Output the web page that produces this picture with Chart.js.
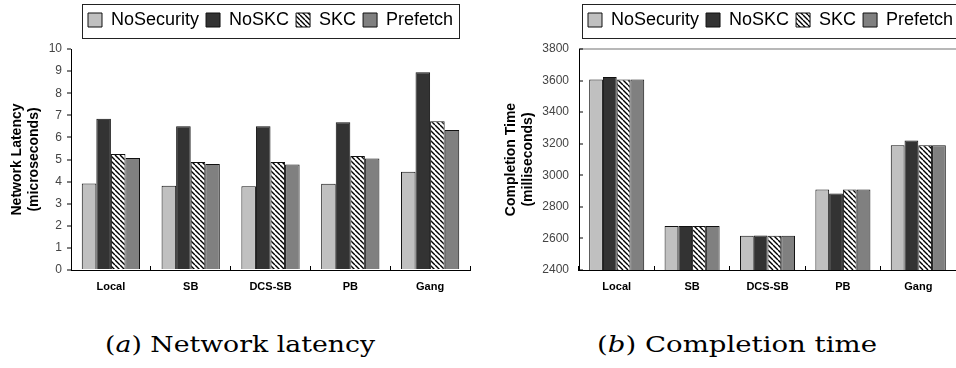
<!DOCTYPE html>
<html><head><meta charset="utf-8">
<script src="https://cdn.jsdelivr.net/npm/chart.js@4.4.1/dist/chart.umd.min.js"></script>
<style>
html,body{margin:0;padding:0;background:#fff;width:956px;height:368px;overflow:hidden;position:relative}
canvas{position:absolute;top:0}
#c1{left:0}
#c2{left:478px}
.cap{position:absolute;font-family:"DejaVu Serif",serif;font-size:23px;line-height:23px;white-space:nowrap;transform-origin:0 0;color:#000}
</style></head><body>
<canvas id="c1" width="478" height="300"></canvas>
<canvas id="c2" width="478" height="300"></canvas>
<div class="cap" id="capA" style="left:105px;top:333px">(<i>a</i>) Network latency</div>
<div class="cap" id="capB" style="left:597px;top:333px">(<i>b</i>) Completion time</div>
<script>
// ---- data ----
const categories = ['Local', 'SB', 'DCS-SB', 'PB', 'Gang'];
const seriesNames = ['NoSecurity', 'NoSKC', 'SKC', 'Prefetch'];

const latencyNoSecurity = [3.91, 3.81, 3.79, 3.90, 4.45];
const latencyNoSKC      = [6.84, 6.51, 6.51, 6.69, 8.95];
const latencySKC        = [5.25, 4.89, 4.89, 5.16, 6.73];
const latencyPrefetch   = [5.07, 4.80, 4.77, 5.04, 6.34];

const completionNoSecurity = [3607, 2679, 2617, 2910, 3191];
const completionNoSKC      = [3622, 2679, 2618, 2885, 3220];
const completionSKC        = [3607, 2679, 2617, 2910, 3191];
const completionPrefetch   = [3607, 2679, 2617, 2910, 3191];

const latencyTickValues = [0, 1, 2, 3, 4, 5, 6, 7, 8, 9, 10];
const completionTickValues = [2400, 2600, 2800, 3000, 3200, 3400, 3600, 3800];

const latencyTitle = ['Network Latency', '(microseconds)'];
const completionTitle = ['Completion Time', '(milliseconds)'];
const captionA = 'Network latency';
const captionB = 'Completion time';

// ---- styling ----
const FONT = '"Liberation Sans", Arial, sans-serif';

function hatch() {
  const s = 5, c = document.createElement('canvas');
  c.width = s; c.height = s;
  const x = c.getContext('2d');
  x.fillStyle = '#fff'; x.fillRect(0, 0, s, s);
  x.strokeStyle = '#000'; x.lineWidth = 1.4;
  for (let k = -1; k <= 1; k++) {
    x.beginPath(); x.moveTo(k * s, 0); x.lineTo(k * s + s, s); x.stroke();
  }
  return x.createPattern(c, 'repeat');
}
const fills = ['#c0c0c0', '#333333', hatch(), '#808080'];

function makeDatasets(values) {
  return seriesNames.map((n, i) => ({
    label: n,
    data: values[i],
    backgroundColor: fills[i],
    borderColor: '#111',
    borderWidth: 1,
    categoryPercentage: 0.73,
    barPercentage: 1.0
  }));
}

const legendFrame = {
  id: 'legendFrame',
  afterLayout(chart, args, opts) {
    const lg = chart.legend; if (!lg) return;
    const p = lg.options.labels.padding;
    const dx = opts.x - (lg.left + p);
    lg.left += dx; lg.right += dx;
    const dy = opts.y - (lg.top + p);
    lg.top += dy; lg.bottom += dy;
  },
  afterDraw(chart, args, opts) {
    const lg = chart.legend; const hb = lg && lg.legendHitBoxes;
    if (!hb || !hb.length) return;
    const first = hb[0], last = hb[hb.length - 1];
    const ctx = chart.ctx; ctx.save();
    ctx.strokeStyle = '#222'; ctx.lineWidth = 1;
    const l = Math.round(first.left - 6) + 0.5;
    const r = Math.round(last.left + last.width + 6) + 0.5;
    const t = Math.round(first.top - 7) + 0.5;
    const b = Math.round(first.top + first.height + 9) + 0.5;
    ctx.strokeRect(l, t, r - l, b - t);
    ctx.restore();
  }
};

function makeChart(id, values, ticks, title, cfg) {
  const step = ticks[1] - ticks[0];
  return new Chart(document.getElementById(id), {
    type: 'bar',
    data: { labels: categories, datasets: makeDatasets(values) },
    plugins: [legendFrame],
    options: {
      responsive: false,
      animation: false,
      devicePixelRatio: 1,
      layout: { padding: { top: 14, right: cfg.padRight, left: 0, bottom: 0 } },
      plugins: {
        tooltip: { enabled: false },
        legendFrame: { x: cfg.legendX, y: 11 },
        legend: {
          position: 'top',
          align: 'start',
          labels: {
            boxWidth: 14, boxHeight: 14, padding: 7,
            color: '#000',
            font: { family: FONT, size: 18 }
          }
        }
      },
      scales: {
        x: {
          grid: { display: true, drawOnChartArea: false, tickLength: -4, color: '#000', offset: true },
          border: { display: true, color: '#000', width: 1 },
          ticks: { color: '#000', padding: 14, font: { family: FONT, size: 11, weight: 'bold' } },
          afterFit(s) { s.height = 30; }
        },
        y: {
          min: ticks[0], max: ticks[ticks.length - 1],
          afterBuildTicks(s) { s.ticks = ticks.map(v => ({ value: v })); },
          grid: {
            display: true,
            drawOnChartArea: cfg.topLine,
            color: (c) => (cfg.topLine && c.tick && c.tick.value === ticks[ticks.length - 1]) ? '#b8b8b8' : 'rgba(0,0,0,0)',
            lineWidth: 2,
            tickColor: '#000', tickWidth: 1,
            tickLength: cfg.yTickLen
          },
          border: { display: true, color: '#000', width: 1 },
          ticks: {
            stepSize: step, color: '#444', padding: cfg.yLabelPad,
            font: { family: FONT, size: 12 },
            callback: (v) => String(v)
          },
          title: {
            display: true, text: title, color: '#000',
            padding: { top: cfg.titlePad, bottom: 0 },
            font: { family: FONT, size: 14, weight: 'bold', lineHeight: 1.2 }
          },
          afterFit(s) { s.width = cfg.yWidth; }
        }
      }
    }
  });
}

makeChart('c1',
  [latencyNoSecurity, latencyNoSKC, latencySKC, latencyPrefetch],
  latencyTickValues, latencyTitle,
  { padRight: 8, legendX: 88, yWidth: 71, yTickLen: 4, yLabelPad: 5, titlePad: 9, topLine: false });

makeChart('c2',
  [completionNoSecurity, completionNoSKC, completionSKC, completionPrefetch],
  completionTickValues, completionTitle,
  { padRight: 0, legendX: 110, yWidth: 101, yTickLen: -4, yLabelPad: 14, titlePad: 25, topLine: true });

// captions
document.getElementById('capA').innerHTML = '(<i>a</i>) ' + captionA;
document.getElementById('capB').innerHTML = '(<i>b</i>) ' + captionB;
function fitCaption(id, w) {
  const el = document.getElementById(id);
  const cw = el.getBoundingClientRect().width;
  el.style.transform = 'scaleX(' + (w / cw) + ')';
}
fitCaption('capA', 270);
fitCaption('capB', 280);
</script>
</body></html>
